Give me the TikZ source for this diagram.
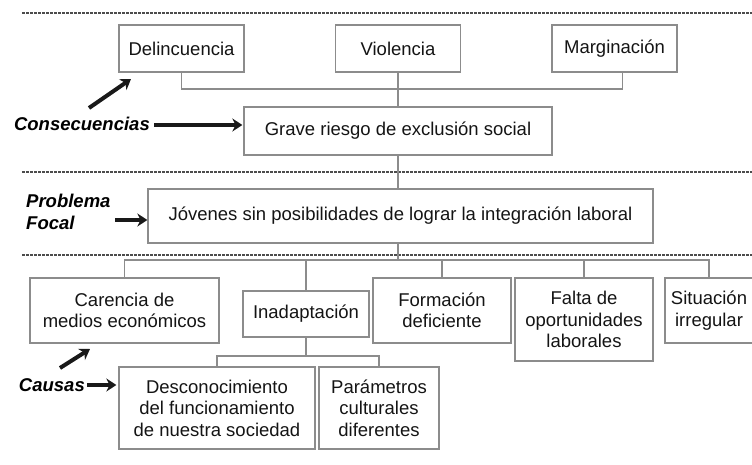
\documentclass[tikz,border=0pt]{standalone}
\usepackage{fontspec}
\setmainfont{Liberation Sans}
\usetikzlibrary{arrows.meta,calc}
\begin{document}
\begin{tikzpicture}[x=1pt,y=-1pt,
  box/.style={draw=black!45,line width=1.3pt,inner sep=0pt,align=center,
    text=black!92,font=\fontsize{18.5}{21.5}\selectfont},
  conn/.style={draw=black!45,line width=1.3pt},
  sep/.style={draw=black!70,line width=1.4pt,dash pattern=on 3pt off 1pt},
  lbl/.style={inner sep=0pt,font=\fontsize{18.5}{21.5}\selectfont\bfseries\itshape,text=black,align=left},
  bigarrow/.style={line width=4pt,-{Stealth[length=10pt,width=13pt]},black!90}]
\useasboundingbox (0,0) rectangle (752,465);
% separators
\draw[sep] (22,13) -- (752,13);
\draw[sep] (22,172) -- (752,172);
\draw[sep] (22,255) -- (752,255);
% consequences
\node[box,minimum width=125pt,minimum height=47pt] (del) at (181.5,48.5) {Delincuencia};
\node[box,minimum width=125pt,minimum height=47pt] (vio) at (398,48.5) {Violencia};
\node[box,minimum width=125pt,minimum height=47pt] (mar) at (614.5,48.5) {Marginación};
\node[box,minimum width=308pt,minimum height=48pt] (gra) at (398,131) {Grave riesgo de exclusión social};
% focal
\node[box,minimum width=505pt,minimum height=54pt] (foc) at (400.5,216) {Jóvenes sin posibilidades de lograr la integración laboral};
% causes
\node[box,minimum width=189pt,minimum height=65pt] (car) at (124.5,310.5) {Carencia de\\medios económicos};
\node[box,minimum width=126pt,minimum height=46pt] (ina) at (306,314) {Inadaptación};
\node[box,minimum width=138pt,minimum height=65pt] (for) at (442,310.5) {Formación\\deficiente};
\node[box,minimum width=138pt,minimum height=83pt] (fal) at (584,319.5) {Falta de\\oportunidades\\laborales};
\node[box,minimum width=88pt,minimum height=65pt] (sit) at (709,310.5) {Situación\\irregular};
\node[box,minimum width=196pt,minimum height=82pt] (des) at (217,408) {Desconocimiento\\del funcionamiento\\de nuestra sociedad};
\node[box,minimum width=120pt,minimum height=82pt] (par) at (379,408) {Parámetros\\culturales\\diferentes};
% connectors
\coordinate (bus1) at (398,89);
\draw[conn] (del.south) |- (bus1) -| ([xshift=8pt]mar.south);
\draw[conn] (vio.south) -- (gra.north);
\draw[conn] (gra.south) -- (gra.south |- foc.north);
\coordinate (bus2) at (398,260);
\draw[conn] (bus2 |- foc.south) -- (bus2);
\draw[conn] (car.north) |- (bus2) -| (sit.north);
\draw[conn] (ina.north) -- (ina.north |- bus2);
\draw[conn] (for.north) -- (for.north |- bus2);
\draw[conn] (fal.north) -- (fal.north |- bus2);
\coordinate (bus3) at (303,356);
\draw[conn] (ina.south) -- (ina.south |- bus3);
\draw[conn] (des.north) |- (bus3) -| (par.north);
% labels
\node[lbl,anchor=east] (cons) at (150,124) {Consecuencias};
\node[lbl,anchor=north west] (prob) at (26,194) {Problema\\Focal};
\node[lbl,anchor=east] (caus) at (85,385) {Causas};
\draw[bigarrow] (cons.east) ++(4,1) -- ($(cons.east -| gra.west)+(-1,1)$);
\coordinate (c1) at (89,108);
\coordinate (c2) at (131,79);
\draw[bigarrow] (c1) -- (c2);
\coordinate (p1) at (115,220);
\draw[bigarrow] (p1) -- (p1 -| foc.west);
\draw[bigarrow] (caus.east) ++(2,0) -- ($(caus.east -| des.west)+(-2,0)$);
\coordinate (c3) at (60,368);
\coordinate (c4) at (90,349);
\draw[bigarrow] (c3) -- (c4);
\end{tikzpicture}
\end{document}
